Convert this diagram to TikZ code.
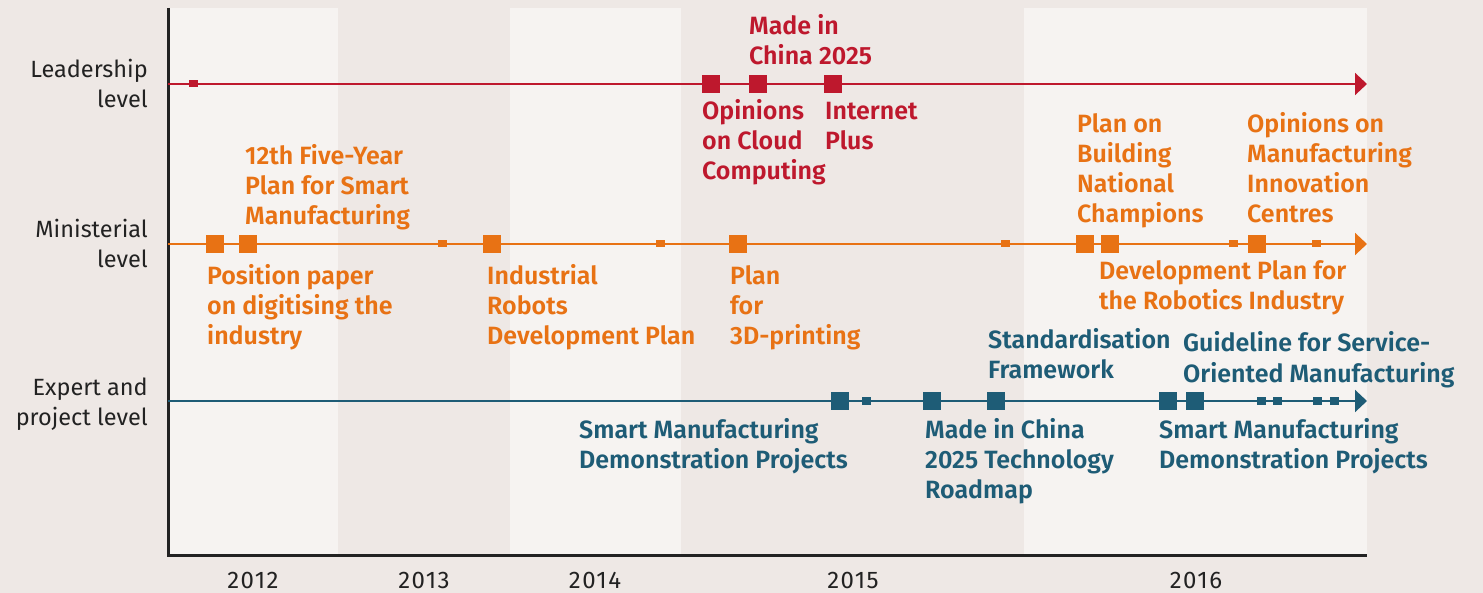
\documentclass[tikz,border=0pt]{standalone}
\usepackage{fontspec}
\setmainfont{Fira Sans}[BoldFont={Fira Sans SemiBold}]
\usetikzlibrary{arrows.meta}
\definecolor{bg}{RGB}{238,232,229}
\definecolor{band}{RGB}{246,243,241}
\definecolor{cred}{RGB}{190,24,45}
\definecolor{corange}{RGB}{232,114,20}
\definecolor{cteal}{RGB}{30,92,118}
\definecolor{cdark}{RGB}{34,34,34}
\tikzset{
  big/.style={draw=none,fill=#1,minimum width=18pt,minimum height=18pt,inner sep=0pt},
  small/.style={draw=none,fill=#1,minimum width=9pt,minimum height=7pt,inner sep=0pt},
  tline/.style={draw=#1,line width=2pt,-{Triangle[length=12pt,width=22pt]}},
  lab/.style={text=#1,font=\fontsize{25}{30}\selectfont\bfseries,align=left,anchor=base west,inner sep=0pt},
  lvl/.style={text=cdark,font=\fontsize{23.5}{30}\selectfont,align=right,anchor=base east,inner sep=0pt},
  yr/.style={text=cdark,font=\fontsize{24}{26}\selectfont\addfontfeature{LetterSpace=6},anchor=base,inner sep=0pt},
}
\begin{document}
\begin{tikzpicture}[x=1pt,y=-1pt]
\fill[bg] (0,0) rectangle (1483,593);
\useasboundingbox (0,0) rectangle (1483,593);
% bands
\fill[band] (168,8) rectangle (338,555);
\fill[band] (510,8) rectangle (681,555);
\fill[band] (1024,8) rectangle (1367,555);
% axes
\coordinate (ytop) at (168,8);
\coordinate (orig) at (168,555);
\coordinate (xend) at (1367,555);
\draw[cdark,line width=3pt] (ytop) -- (orig) -- (xend);
% level labels (anchor = baseline of last line)
\node[lvl] (lvlL) at (148,108) {Leadership\\level};
\node[lvl] (lvlM) at (148,268) {Ministerial\\level};
\node[lvl] (lvlE) at (148,425) {Expert and\\project level};
% years
\node[yr] (y12) at (253,588) {2012};
\node[yr] (y13) at (424,588) {2013};
\node[yr] (y14) at (595,588) {2014};
\node[yr] (y15) at (853,588) {2015};
\node[yr] (y16) at (1196,588) {2016};
% timelines
\coordinate (L0) at (168,84);  \coordinate (L1) at (1367,84);
\coordinate (M0) at (168,244); \coordinate (M1) at (1367,244);
\coordinate (E0) at (168,401); \coordinate (E1) at (1367,401);
\draw[tline=cred] (L0) -- (L1);
\draw[tline=corange] (M0) -- (M1);
\draw[tline=cteal] (E0) -- (E1);
% leadership markers
\node[small=cred] (l1) at (193,84) {};
\node[big=cred] (l2) at (711,84) {};
\node[big=cred] (l3) at (758,84) {};
\node[big=cred] (l4) at (833,84) {};
% ministerial markers
\node[big=corange] (m1) at (215,244) {};
\node[big=corange] (m2) at (248,244) {};
\node[small=corange] (m3) at (442,244) {};
\node[big=corange] (m4) at (492,244) {};
\node[small=corange] (m5) at (660,244) {};
\node[big=corange] (m6) at (738,244) {};
\node[small=corange] (m7) at (1005,244) {};
\node[big=corange] (m8) at (1085,244) {};
\node[big=corange] (m9) at (1110,244) {};
\node[small=corange] (m10) at (1233,244) {};
\node[big=corange] (m11) at (1257,244) {};
\node[small=corange] (m12) at (1316,244) {};
% expert markers
\node[big=cteal] (e1) at (840,401) {};
\node[small=cteal] (e2) at (866,401) {};
\node[big=cteal] (e3) at (932,401) {};
\node[big=cteal] (e4) at (996,401) {};
\node[big=cteal] (e5) at (1168,401) {};
\node[big=cteal] (e6) at (1195,401) {};
\node[small=cteal] (e7) at (1261,401) {};
\node[small=cteal] (e8) at (1277,401) {};
\node[small=cteal] (e9) at (1317,401) {};
\node[small=cteal] (e10) at (1334,401) {};
% leadership labels
\node[lab=cred] (tMIC) at (749,65) {Made in\\China 2025};
\node[lab=cred] (tCloud) at (702,180) {Opinions\\on Cloud\\Computing};
\node[lab=cred] (tNet) at (825,150) {Internet\\Plus};
% ministerial labels
\node[lab=corange] (t12) at (245,225) {12th Five-Year\\Plan for Smart\\Manufacturing};
\node[lab=corange] (tPos) at (207,345) {Position paper\\on digitising the\\industry};
\node[lab=corange] (tRob) at (487,345) {Industrial\\Robots\\Development Plan};
\node[lab=corange] (t3D) at (730,345) {Plan\\for\\3D-printing};
\node[lab=corange] (tChamp) at (1077,223) {Plan on\\Building\\National\\Champions};
\node[lab=corange] (tInno) at (1247,223) {Opinions on\\Manufacturing\\Innovation\\Centres};
\node[lab=corange] (tRobInd) at (1099,310) {Development Plan for\\the Robotics Industry};
% expert labels
\node[lab=cteal] (tSM1) at (579,468) {Smart Manufacturing\\Demonstration Projects};
\node[lab=cteal] (tRoad) at (925,498) {Made in China\\2025 Technology\\Roadmap};
\node[lab=cteal] (tStd) at (988,378) {Standardisation\\Framework};
\node[lab=cteal] (tServ) at (1183,382) {Guideline for Service-\\Oriented Manufacturing};
\node[lab=cteal] (tSM2) at (1159,468) {Smart Manufacturing\\Demonstration Projects};
\end{tikzpicture}
\end{document}
